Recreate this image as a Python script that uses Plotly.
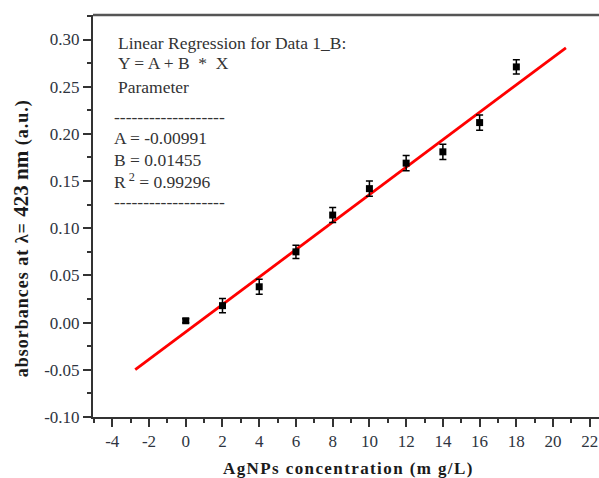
import plotly.graph_objects as go

# Data
conc = [0, 2, 4, 6, 8, 10, 12, 14, 16, 18]
absorb = [0.002, 0.018, 0.038, 0.075, 0.114, 0.142, 0.169, 0.181, 0.212, 0.271]
err = [0.002, 0.0075, 0.008, 0.007, 0.008, 0.008, 0.008, 0.008, 0.008, 0.0075]

# Linear fit parameters (as printed on the chart)
A = -0.00991
B = 0.01455
R2 = 0.99296
fit_x = [-2.75, 20.7]
fit_y = [A + B * v for v in fit_x]

x_ticks = [-4, -2, 0, 2, 4, 6, 8, 10, 12, 14, 16, 18, 20, 22]
y_ticks = [-0.10, -0.05, 0.00, 0.05, 0.10, 0.15, 0.20, 0.25, 0.30]

SERIF = "Liberation Serif, Times New Roman, serif"

fig = go.Figure()
fig.add_trace(go.Scatter(x=fit_x, y=fit_y, mode="lines",
                         line=dict(color="#ff0000", width=2.8), showlegend=False))
fig.add_trace(go.Scatter(x=conc, y=absorb, mode="markers",
                         marker=dict(symbol="square", size=7, color="black"),
                         error_y=dict(type="data", array=err, visible=True,
                                      color="black", thickness=1.5, width=3.5),
                         showlegend=False))

axis_common = dict(showgrid=False, zeroline=False, showline=True, linecolor="#333333",
                   linewidth=2, ticks="outside", tickcolor="#333333", tickwidth=2,
                   ticklen=8, tickfont=dict(family=SERIF, size=17, color="#2e3440"),
                   automargin=False)

fig.update_xaxes(range=[-5.05, 22.5], tickvals=x_ticks,
                 ticktext=[str(v) for v in x_ticks],
                 minor=dict(dtick=1, tick0=0, ticks="outside", ticklen=4,
                            tickcolor="#333333", tickwidth=2),
                 **axis_common)
fig.update_yaxes(range=[-0.10, 0.326], tickvals=y_ticks,
                 ticktext=["%.2f" % v for v in y_ticks],
                 minor=dict(dtick=0.025, tick0=0, ticks="outside", ticklen=4,
                            tickcolor="#333333", tickwidth=2),
                 **axis_common)

# top border (right side is cropped in the original)
fig.add_shape(type="line", xref="paper", yref="paper", x0=0, x1=1, y0=1, y1=1,
              line=dict(color="#555555", width=2.5))

txt_font = dict(family=SERIF, size=17.5, color="#333333")
dash = "-" * 19
lines = [
    ("Linear Regression for Data 1_B:", 0.045, 0.930),
    ("Y = A + B  *  X", 0.045, 0.881),
    ("Parameter", 0.045, 0.821),
    (dash, 0.037, 0.747),
    ("A = -0.00991", 0.037, 0.694),
    ("B = 0.01455", 0.037, 0.639),
    ("R<sup> 2</sup> = 0.99296", 0.037, 0.587),
    (dash, 0.037, 0.535),
]
for t, xp, yp in lines:
    fig.add_annotation(text=t, xref="paper", yref="paper", x=xp, y=yp,
                       xanchor="left", yanchor="middle", showarrow=False, font=txt_font)

fig.add_annotation(text="<b><span style='letter-spacing:1px'>absorbances at λ= </span>"
                        "<span style='font-size:21px'>423 nm</span>"
                        "<span style='letter-spacing:1px'> (a.u.)</span></b>",
                   xref="paper", yref="paper", x=-0.142, y=0.445, textangle=-90,
                   xanchor="center", yanchor="middle", showarrow=False,
                   font=dict(family=SERIF, size=18, color="#1a1a1a"))
fig.add_annotation(text="<b><span style='letter-spacing:1.4px'>AgNPs concentration (m g/L)</span></b>",
                   xref="paper", yref="paper", x=0.505, y=-0.127,
                   xanchor="center", yanchor="middle", showarrow=False,
                   font=dict(family=SERIF, size=17, color="#1a1a1a"))

fig.update_layout(width=599, height=478, plot_bgcolor="white", paper_bgcolor="white",
                  margin=dict(l=93, r=0, t=15, b=61))

fig.write_html("out.html", config={"displayModeBar": False},
               post_script="document.body.style.margin='0';"
                           "document.body.style.overflow='hidden';")
